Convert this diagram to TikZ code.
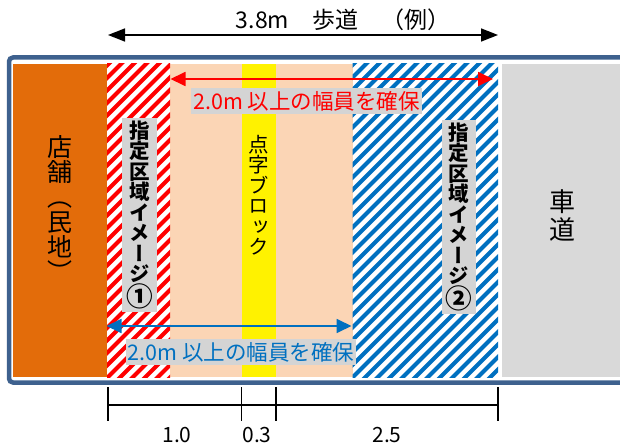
\documentclass[tikz,border=0pt]{standalone}
\usepackage{fontspec}
\usepackage{graphicx}
\setmainfont{Noto Sans CJK JP}
\newfontfamily\tatefont[RawFeature=+vert]{Noto Sans CJK JP}
\usetikzlibrary{arrows.meta}

\definecolor{frameBlue}{RGB}{62,97,142}
\definecolor{shopOrange}{RGB}{227,108,10}
\definecolor{walkPeach}{RGB}{251,213,181}
\definecolor{roadGray}{RGB}{217,217,217}
\definecolor{labelGray}{RGB}{212,212,212}
\definecolor{zoneBlue}{RGB}{0,112,192}
\definecolor{zoneRed}{RGB}{255,0,0}

\newcommand{\circnum}[1]{\raisebox{-0.1em}{\scalebox{1.3}{#1}}}

\begin{document}
\begin{tikzpicture}[x=1pt, y=-1pt]
  \tikzstyle{stripeRed} = [zoneRed, line width=4.2pt]
  \tikzstyle{stripeBlue} = [zoneBlue, line width=4.2pt]
  \tikzstyle{tate} = [align=center, inner sep=0pt]
  \tikzstyle{zoneLabel} = [tate, fill=labelGray, inner xsep=4pt, inner ysep=3pt, font=\tatefont\bfseries\fontsize{20.5}{20.5}\selectfont]
  \tikzstyle{widthLabel} = [fill=labelGray, inner xsep=2pt, inner ysep=3pt, font=\fontsize{21.5}{21.5}\selectfont]
  \tikzstyle{dimArrow} = [line width=1.6pt, {Triangle[length=17pt,width=13pt]}-{Triangle[length=17pt,width=13pt]}]
  \tikzstyle{widthArrow} = [line width=1.8pt, {Triangle[length=15pt,width=14pt]}-{Triangle[length=15pt,width=14pt]}]
  \tikzstyle{dimLine} = [line width=1.3pt]
  \tikzstyle{dimText} = [font=\fontsize{21}{21}\selectfont]

  \useasboundingbox (0,0) rectangle (620,446);
  \clip (0,0) rectangle (620,446);

  % Draw bands of the sidewalk
  \fill[shopOrange] (12.5,64) rectangle (107,377);
  \fill[walkPeach] (170,64) rectangle (352.5,377);
  \fill[yellow] (241.7,64) rectangle (275.7,377);
  \fill[roadGray] (501.5,64) rectangle (640,377);

  % Draw hatched zones
  \begin{scope}
    \clip (107,64) rectangle (170,377);
    \foreach \c in {160,172.5,...,560}
      \draw[stripeRed] (\c-400,400) -- (\c-40,40);
  \end{scope}
  \begin{scope}
    \clip (352.5,64) rectangle (498,377);
    \foreach \c in {405,417.5,...,890}
      \draw[stripeBlue] (\c-400,400) -- (\c-40,40);
  \end{scope}

  % Draw frame
  \draw[frameBlue, line width=4.5pt, rounded corners=4pt] (9,57.5) rectangle (640,382.5);

  % Draw band labels
  \node[tate, font=\tatefont\fontsize{25}{25}\selectfont] (shop) at (60,208) {店\\舗\\（\\民\\地\\）};
  \node[tate, font=\fontsize{26}{28}\selectfont] (road) at (562,216) {車\\道};
  \node[tate, font=\tatefont\fontsize{20.5}{20.5}\selectfont] (block) at (258.7,195) {点\\字\\ブ\\ロ\\ッ\\ク};
  \node[zoneLabel] (zone1) at (139.5,215) {指\\定\\区\\域\\イ\\メ\\ー\\ジ\\\circnum{①}};
  \node[zoneLabel] (zone2) at (459,217) {指\\定\\区\\域\\イ\\メ\\ー\\ジ\\\circnum{②}};

  % Sidewalk width
  \node[font=\fontsize{23}{23}\selectfont, anchor=base] (title) at (343,29) {3.8m　歩道　（例）};
  \coordinate (walkL) at (108,35);
  \coordinate (walkR) at (498,35);
  \draw[dimArrow] (walkL) -- (walkR);

  % Clear widths
  \coordinate (redL) at (170.5,79);
  \coordinate (redR) at (493,79);
  \draw[widthArrow, zoneRed] (redL) -- (redR);
  \node[widthLabel, text=zoneRed] (redText) at (306.5,101) {2.0m 以上の幅員を確保};

  \coordinate (blueL) at (106.5,326);
  \coordinate (blueR) at (351.5,326);
  \draw[widthArrow, zoneBlue] (blueL) -- (blueR);
  \node[widthLabel, text=zoneBlue] (blueText) at (241,352) {2.0m 以上の幅員を確保};

  % Dimension line
  \foreach \name/\x in {d0/108, d1/241.7, d2/276, d3/498}
    \coordinate (\name) at (\x,405);
  \draw[dimLine] (d0) -- (d3);
  \foreach \name in {d0, d1, d2, d3}
    \draw[dimLine] ([yshift=18pt]\name) -- ([yshift=-16pt]\name);
  \node[dimText] (len1) at (177,435) {1.0};
  \node[dimText] (len2) at (257,435) {0.3};
  \node[dimText] (len3) at (387,435) {2.5};
\end{tikzpicture}
\end{document}
